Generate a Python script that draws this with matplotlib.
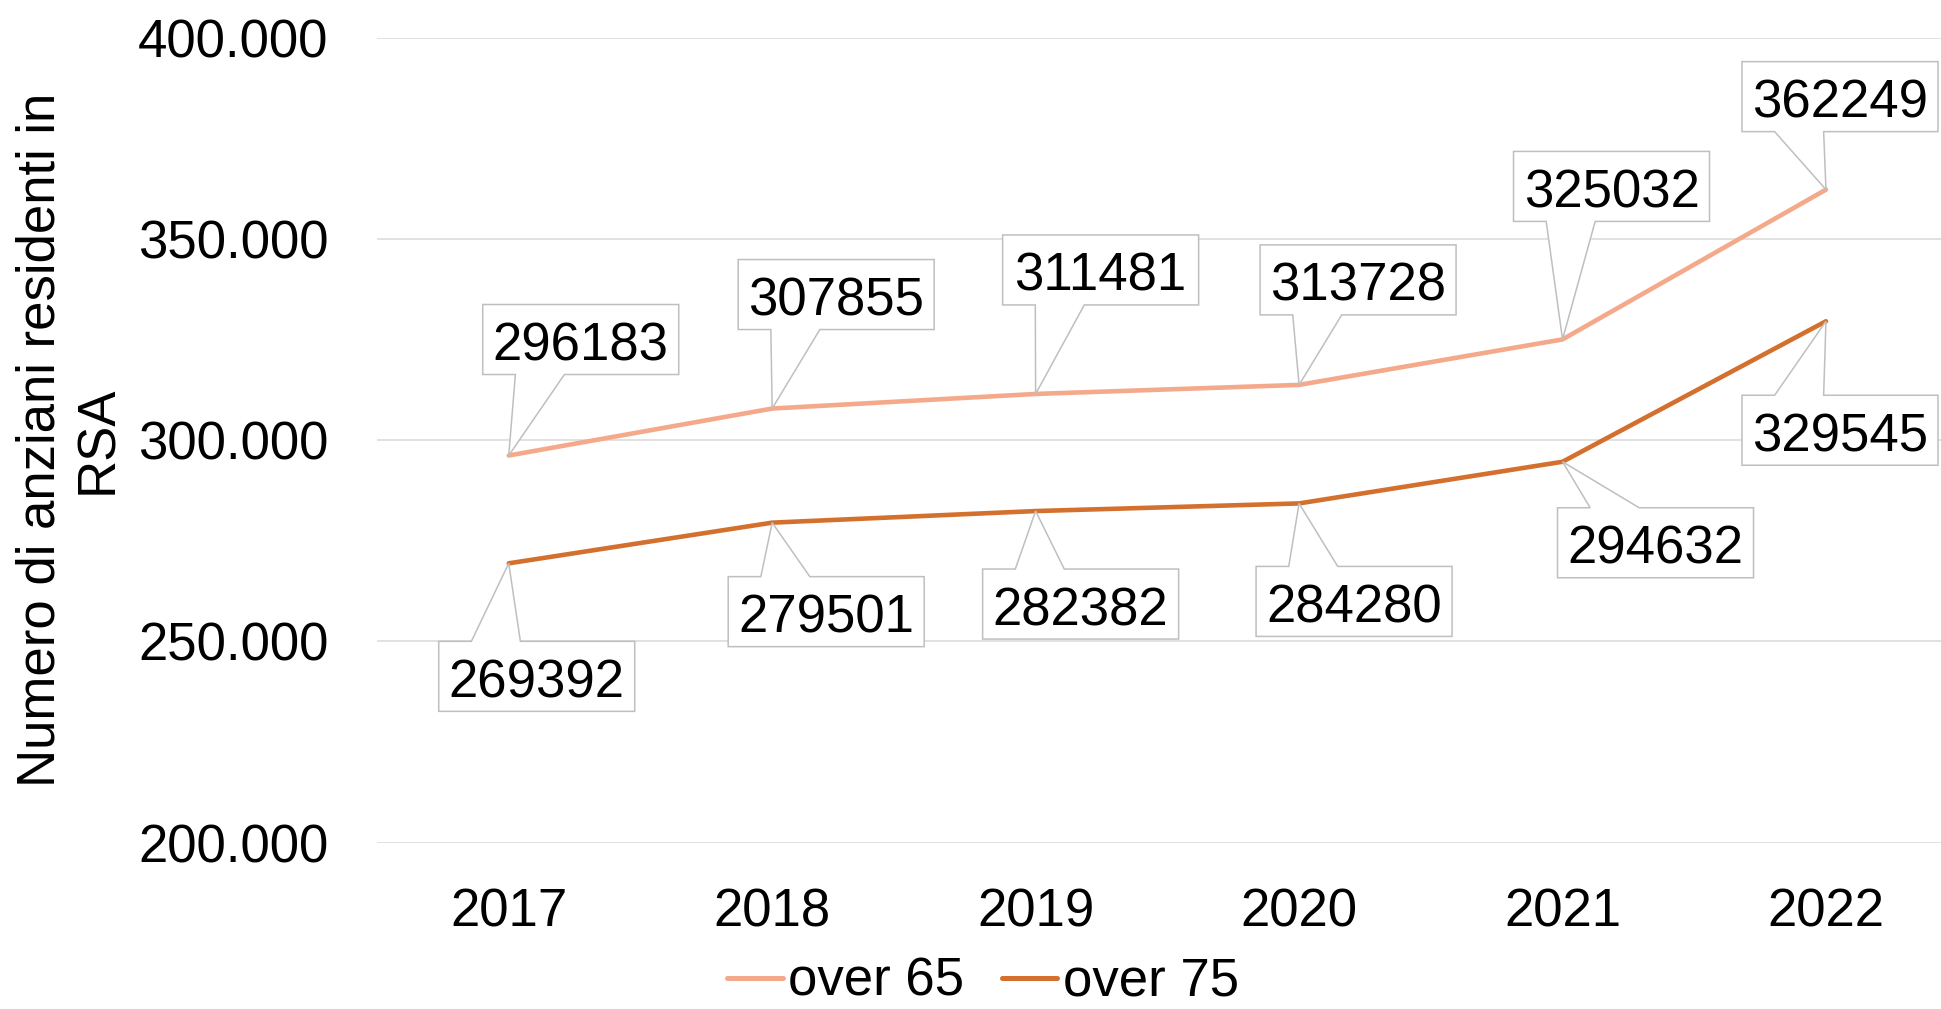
import matplotlib
matplotlib.use("Agg")
import matplotlib.pyplot as plt
from matplotlib.patches import Polygon
from matplotlib.transforms import IdentityTransform
from matplotlib.lines import Line2D
from matplotlib.ticker import FuncFormatter

plt.rcParams['font.family'] = ['Liberation Sans', 'DejaVu Sans']

years = ["2017", "2018", "2019", "2020", "2021", "2022"]
over65 = [296183, 307855, 311481, 313728, 325032, 362249]
over75 = [269392, 279501, 282382, 284280, 294632, 329545]
series_names = ["over 65", "over 75"]
colors = ["#F4A98A", "#D4702E"]

# callout box centre offsets from point, in pixels (x right, y down)
off65 = [(72, -116), (64, -114), (65, -124), (59, -105), (49, -153), (14, -93)]
off75 = [(28, 113), (54, 89), (45, 93), (55, 98), (93, 81), (14, 109)]
BOX_W, BOX_H = 196, 70

W, H = 1941, 1009
fig = plt.figure(figsize=(W / 100, H / 100), dpi=100)
ax = fig.add_axes([377 / W, 1 - 842.6 / H, (1957.7 - 377) / W, (842.6 - 37.7) / H])

x = list(range(len(years)))
ax.plot(x, over65, color=colors[0], lw=3.3, solid_capstyle='round', zorder=3)
ax.plot(x, over75, color=colors[1], lw=3.3, solid_capstyle='round', zorder=3)

ax.set_xlim(-0.5, len(years) - 0.5)
ax.set_ylim(200000, 400000)
ax.set_yticks([200000, 250000, 300000, 350000, 400000])
ax.yaxis.set_major_formatter(FuncFormatter(lambda v, p: f"{int(v):,}".replace(",", ".")))
ax.set_xticks(x)
ax.set_xticklabels(years)
ax.tick_params(axis='y', length=0, pad=35, labelsize=38)
ax.tick_params(axis='x', length=0, pad=32, labelsize=38)
ax.grid(axis='y', color='#D9D9D9', lw=1.1, zorder=0)
ax.set_axisbelow(True)
for s in ax.spines.values():
    s.set_visible(False)

fig.text(69 / W, 1 - 440 / H, "Numero di anziani residenti in\nRSA", rotation=90,
         ha='center', va='center', multialignment='center', fontsize=38, linespacing=1.2)

handles = [Line2D([], [], color=c, lw=3.6, solid_capstyle='round') for c in colors]
fig.legend(handles, series_names, loc='center', bbox_to_anchor=(983 / W, 1 - 982 / H),
           ncol=2, frameon=False, fontsize=38, handlelength=1.05, handletextpad=0.1,
           columnspacing=0.72, borderpad=0, borderaxespad=0)

fig.canvas.draw()
tr = ax.transData
for vals, offs in ((over65, off65), (over75, off75)):
    for i, v in enumerate(vals):
        px, py = tr.transform((i, v))
        dx, dy = offs[i]
        cx, cy = px + dx, py - dy
        x0, x1 = cx - BOX_W / 2, cx + BOX_W / 2
        y0, y1 = cy - BOX_H / 2, cy + BOX_H / 2
        b1 = x0 + BOX_W / 6
        b2 = x0 + BOX_W * 5 / 12
        if cy > py:  # box above point: tail on bottom edge
            verts = [(x0, y1), (x1, y1), (x1, y0), (b2, y0), (px, py), (b1, y0), (x0, y0)]
        else:
            verts = [(x0, y0), (x1, y0), (x1, y1), (b2, y1), (px, py), (b1, y1), (x0, y1)]
        poly = Polygon(verts, closed=True, facecolor='white', edgecolor='#BFBFBF',
                       lw=1.1, transform=IdentityTransform(), zorder=5)
        fig.add_artist(poly)
        fig.text(cx, cy - 21, str(v), transform=IdentityTransform(), ha='center',
                 va='baseline', fontsize=38, zorder=6)

fig.savefig("out.png", dpi=100)
